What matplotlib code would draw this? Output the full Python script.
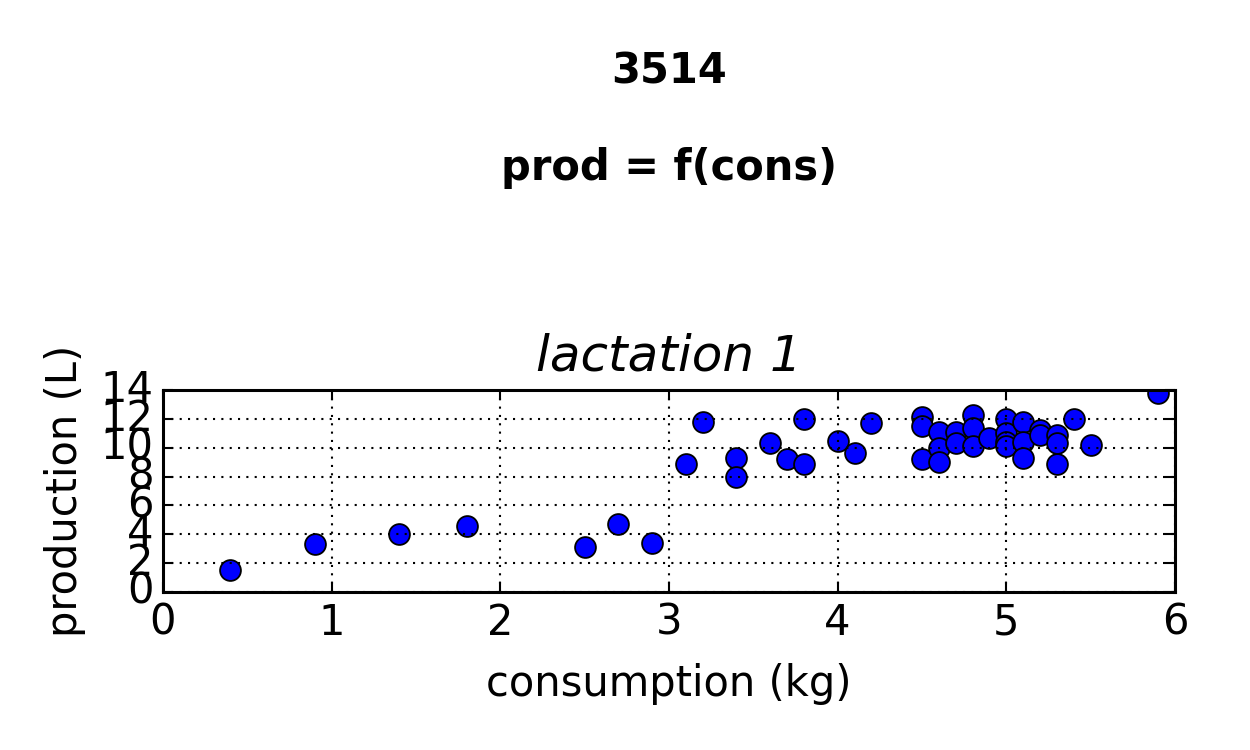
import numpy as np
import matplotlib
matplotlib.use('Agg')
import matplotlib.pyplot as plt

# consumption (kg) vs production (L), cow 3514, lactation 1
cons = [0.4, 0.9, 1.4, 1.8, 2.5, 2.7, 2.9, 3.1, 3.2, 3.4, 3.4, 3.6, 3.7, 3.8, 3.8,
        4.0, 4.1, 4.2, 4.5, 4.5, 4.5, 4.6, 4.6, 4.6, 4.7, 4.7, 4.8, 4.8, 4.8, 4.9,
        5.0, 5.0, 5.0, 5.0, 5.1, 5.1, 5.1, 5.2, 5.2, 5.3, 5.3, 5.3, 5.4, 5.5, 5.9]
prod = [1.5, 3.3, 4.0, 4.6, 3.1, 4.7, 3.4, 8.9, 11.8, 9.3, 8.0, 10.3, 9.2, 8.9, 12.0,
        10.5, 9.6, 11.7, 12.1, 11.5, 9.2, 11.1, 10.0, 9.0, 11.1, 10.3, 12.3, 11.4, 10.1, 10.65,
        12.0, 11.0, 10.4, 10.1, 11.8, 10.4, 9.3, 11.2, 10.9, 10.9, 10.3, 8.9, 12.0, 10.2, 13.8]

plt.style.use('classic')

fig = plt.figure(figsize=(12.5, 7.5), dpi=100)
ax = fig.add_axes([163 / 1250, 1 - 592 / 750, (1175 - 163) / 1250, (592 - 390) / 750])

ax.plot(cons, prod, 'o', color='b', markeredgecolor='k', markersize=15, markeredgewidth=1.3)
ax.set_xlim(0, 6)
ax.set_ylim(0, 14)
ax.set_xticks(range(0, 7))
ax.set_yticks(range(0, 15, 2))
ax.grid(True, linestyle=(0, (1.5, 4.5)), color='k', linewidth=1.5)
ax.tick_params(direction='in', length=7, width=1.5, labelsize=30, top=True, right=True, pad=7)
for s in ax.spines.values():
    s.set_linewidth(2.2)

ax.set_xlabel('consumption (kg)', fontsize=30, labelpad=14)
ax.set_ylabel('production (L)', fontsize=30, labelpad=10)
ax.set_title('lactation 1', fontsize=36, style='italic', pad=14)

cx = (163 + 1175) / 2 / 1250
fig.text(cx, 1 - 71 / 750, '3514', ha='center', va='center', fontsize=30, fontweight='bold')
fig.text(cx, 1 - 168 / 750, 'prod = f(cons)', ha='center', va='center', fontsize=30, fontweight='bold')

fig.savefig('out.png', dpi=100, facecolor='white')
